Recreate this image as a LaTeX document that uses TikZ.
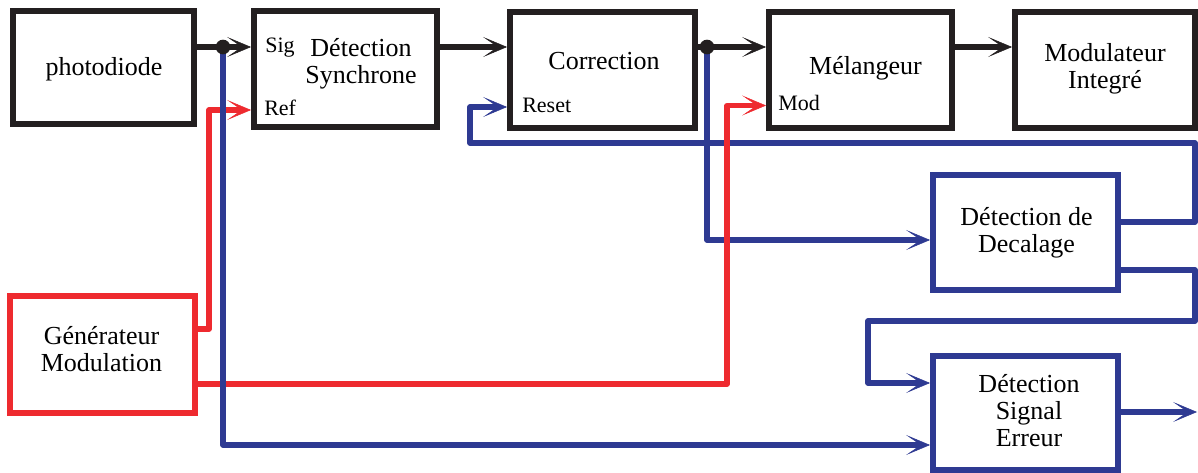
\documentclass[tikz,border=0pt]{standalone}
\usepackage{fontspec}
\setmainfont{Liberation Serif}
\usetikzlibrary{arrows.meta}
\definecolor{cblk}{HTML}{231F20}
\definecolor{cred}{HTML}{EE2A2F}
\definecolor{cblu}{HTML}{2E3A92}
\tikzset{
  box/.style={draw=#1, line width=4.4pt, fill=white, inner sep=0pt},
  box/.default=cblk,
  txt/.style={font=\fontsize{19.5}{20}\selectfont, align=center, inner sep=0pt, text=black},
  lbl/.style={font=\fontsize{16.5}{18}\selectfont, inner sep=0pt, anchor=base west, text=black},
  wire/.style={line width=4pt, line join=round, draw=#1},
  wire/.default=cblk,
  arr/.style={-{Stealth[length=18pt,width=15pt,inset=11pt,line width=0.4pt]}},
  jdot/.style={circle, fill=cblk, inner sep=0pt, minimum size=11pt}
}
\begin{document}
\begin{tikzpicture}[x=0.75pt,y=-0.75pt]
\useasboundingbox (0,0) rectangle (1198,473);
% boxes
\node[box, minimum width=135.75pt, minimum height=84.75pt] (pd) at (103.25,67.5) {};
\node[box, minimum width=137.25pt, minimum height=87pt] (ds) at (345.5,69) {};
\node[box, minimum width=138.75pt, minimum height=87pt] (co) at (602.5,70) {};
\node[box, minimum width=137.25pt, minimum height=86.6pt] (me) at (860.5,70) {};
\node[box, minimum width=135pt, minimum height=86.6pt] (mi) at (1105,70) {};
\node[box=cblu, minimum width=138.75pt, minimum height=86.25pt] (dd) at (1025.5,232.5) {};
\node[box=cblu, minimum width=138.75pt, minimum height=85.5pt] (se) at (1025.5,413) {};
\node[box=cred, minimum width=138.75pt, minimum height=87.75pt] (gm) at (102.5,354.5) {};
% texts
\node[txt] (pdT) at (104,69) {photodiode};
\node[txt] (dsT) at (361,64) {Détection\\Synchrone};
\node[txt, anchor=base] (coT) at (604,70) {Correction};
\node[txt, anchor=base] (meT) at (865.5,75) {Mélangeur};
\node[txt] (miT) at (1105,69) {Modulateur\\Integré};
\node[txt] (ddT) at (1026.5,232.5) {Détection de\\Decalage};
\node[txt] (seT) at (1029,410.5) {Détection\\Signal\\Erreur};
\node[txt] (gmT) at (101.5,349) {Générateur\\Modulation};
\node[lbl] (sigL) at (265,53) {Sig};
\node[lbl] (refL) at (264,116) {Ref};
\node[lbl] (resL) at (522,113) {Reset};
\node[lbl] (modL) at (778,111) {Mod};
% junctions
\coordinate (j1) at (223,47);
\coordinate (j2) at (707,47);
\coordinate (out) at (1197,412);
% black connectors
\draw[wire, arr] (pd.east |- j1) -- (ds.west |- j1);
\draw[wire, arr] (ds.east |- j1) -- (co.west |- j1);
\draw[wire, arr] (co.east |- j2) -- (me.west |- j2);
\draw[wire, arr] (me.east |- j2) -- (mi.west |- j2);
% blue connectors from j2 and feedback
\draw[wire=cblu, arr] (j2) |- (dd.west |- 0,240);
\draw[wire=cblu, arr] (dd.east |- 0,222) -| (1195,143) -| (470,107) -- (co.west |- 0,107);
\draw[wire=cblu, arr] (dd.east |- 0,270) -| (1195,321) -| (868,383) -- (se.west |- 0,383);
% red connectors
\draw[wire=cred, arr] (gm.east |- 0,329) -| (209,110) -- (ds.west |- 0,110);
\draw[wire=cred, arr] (gm.east |- 0,384) -| (727,105.5) -- (me.west |- 0,105.5);
% blue from j1
\draw[wire=cblu, arr] (j1) |- (se.west |- 0,445);
\draw[wire=cblu, arr] (se.east |- 0,412) -- (out);
% dots
\node[jdot] (d1) at (j1) {};
\node[jdot] (d2) at (j2) {};
\end{tikzpicture}
\end{document}
